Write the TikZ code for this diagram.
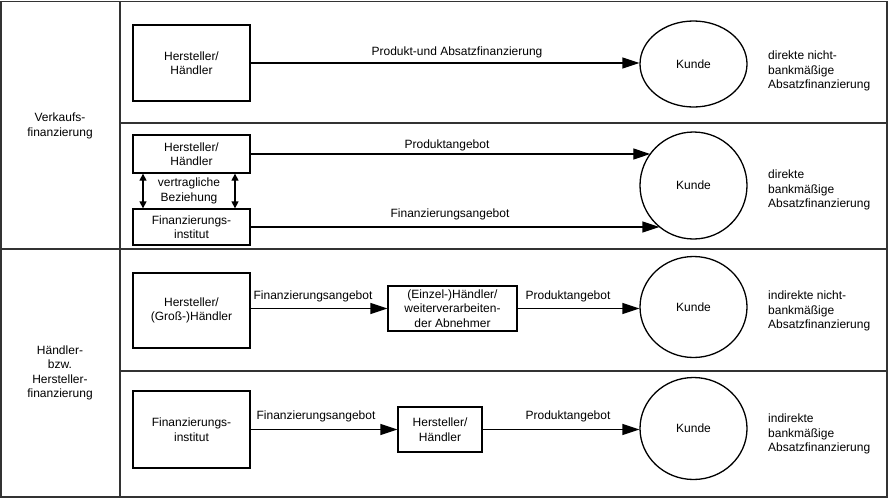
\documentclass[tikz,border=0pt]{standalone}
\usepackage{fontspec}
\setmainfont{Liberation Sans}
\usetikzlibrary{shapes.geometric,arrows.meta}
\begin{document}
\begin{tikzpicture}[x=1pt,y=-1pt,
  every node/.style={font=\fontsize{12}{14.5}\selectfont},
  box/.style={draw, line width=1.3pt, align=center, inner sep=0pt},
  kunde/.style={draw, ellipse, line width=1.3pt, inner sep=0pt, minimum width=107pt},
  lbl/.style={align=center, inner sep=0pt},
  note/.style={align=left, anchor=west, inner sep=0pt},
  arr/.style={line width=1.3pt, -{Triangle[length=17pt,width=11pt]}},
  darr/.style={line width=1.3pt, {Triangle[length=7pt,width=7pt]}-{Triangle[length=7pt,width=7pt]}},
  frame/.style={line width=1.6pt, draw=black!80}]
\useasboundingbox (0,0) rectangle (888,498);
% frame
\draw[frame] (1,1.5) rectangle (887,497);
\draw[frame] (120,1.5) -- (120,497);
\draw[frame] (120,123) -- (887,123);
\draw[frame] (1,249) -- (887,249);
\draw[frame] (120,371) -- (887,371);
% left labels
\node[lbl] (vf) at (60,126) {Verkaufs-\\finanzierung};
\node[lbl] (hf) at (60,373) {Händler-\\bzw.\\Hersteller-\\finanzierung};
% row 1
\node[box, minimum width=117pt, minimum height=76pt] (b1) at (191.5,63) {Hersteller/\\Händler};
\node[kunde, minimum height=86pt] (k1) at (693.5,64) {Kunde};
\draw[arr] (b1.east) -- (b1.east -| k1.west);
\node[lbl] (l1) at (457,52) {Produkt-und Absatzfinanzierung};
\node[note] (n1) at (768,71) {direkte nicht-\\bankmäßige\\Absatzfinanzierung};
% row 2
\node[box, minimum width=117pt, minimum height=38pt] (hh2) at (191.5,154) {Hersteller/\\Händler};
\node[box, minimum width=117pt, minimum height=36pt] (fi2) at (191.5,227) {Finanzierungs-\\institut};
\node[kunde, minimum height=107pt] (k2) at (693.5,185.5) {Kunde};
\draw[arr] (hh2.east) -- (hh2.east -| k2.143);
\draw[arr] (fi2.east) -- (fi2.east -| k2.231);
\node[lbl] (l2a) at (447,145) {Produktangebot};
\node[lbl] (l2b) at (450,214) {Finanzierungsangebot};
\draw[darr] ([xshift=-48.5pt]hh2.south) -- ([xshift=-48.5pt]fi2.north);
\draw[darr] ([xshift=43.5pt]hh2.south) -- ([xshift=43.5pt]fi2.north);
\node[lbl] (vb) at (189,191) {vertragliche\\Beziehung};
\node[note] (n2) at (768,190) {direkte\\bankmäßige\\Absatzfinanzierung};
% row 3
\node[box, minimum width=117pt, minimum height=75pt] (hg3) at (191.5,310.5) {Hersteller/\\(Groß-)Händler};
\node[box, minimum width=129pt, minimum height=45pt] (eh3) at (452.5,308.5) {(Einzel-)Händler/\\weiterverarbeiten-\\der Abnehmer};
\node[kunde, minimum height=101pt] (k3) at (693.5,307) {Kunde};
\draw[arr] (hg3.east |- eh3.west) -- (eh3.west);
\draw[arr] (eh3.east) -- (eh3.east -| k3.west);
\node[lbl] (l3a) at (313,296) {Finanzierungsangebot};
\node[lbl] (l3b) at (568,296) {Produktangebot};
\node[note] (n3) at (768,311) {indirekte nicht-\\bankmäßige\\Absatzfinanzierung};
% row 4
\node[box, minimum width=117pt, minimum height=77pt] (fi4) at (191.5,429.5) {Finanzierungs-\\institut};
\node[box, minimum width=84pt, minimum height=45pt] (hh4) at (440,429.5) {Hersteller/\\Händler};
\node[kunde, minimum height=102pt] (k4) at (693.5,428.5) {Kunde};
\draw[arr] (fi4.east) -- (hh4.west);
\draw[arr] (hh4.east) -- (hh4.east -| k4.west);
\node[lbl] (l4a) at (316,416) {Finanzierungsangebot};
\node[lbl] (l4b) at (568,416) {Produktangebot};
\node[note] (n4) at (768,434) {indirekte\\bankmäßige\\Absatzfinanzierung};
\end{tikzpicture}
\end{document}
